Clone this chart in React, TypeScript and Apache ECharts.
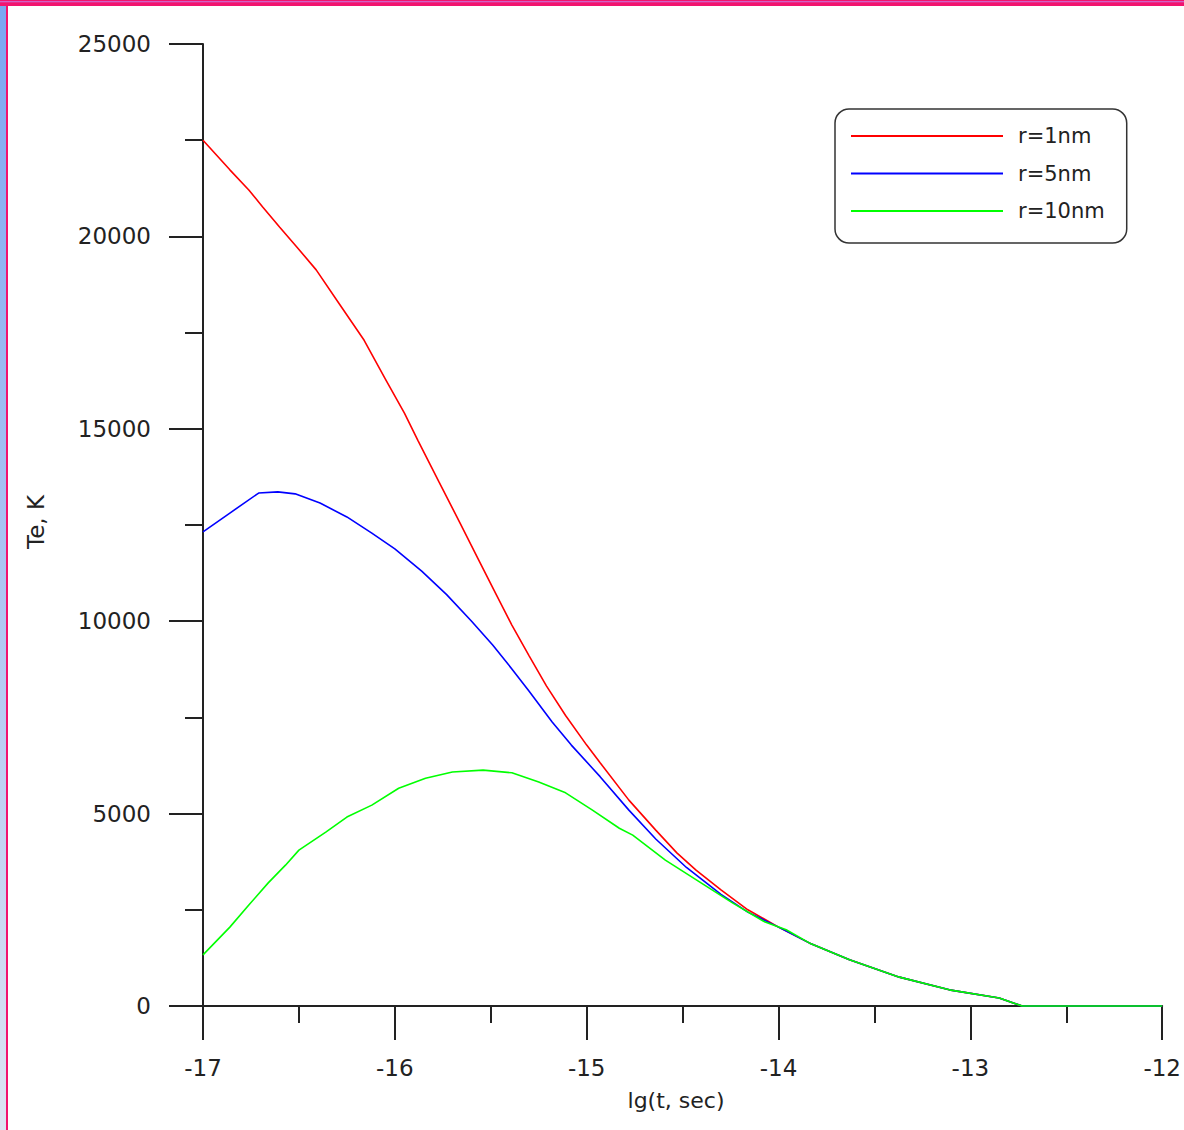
import React, { useEffect, useRef } from "react";
import * as echarts from "echarts";

// Electron temperature Te (K) against lg(t, sec) for three radii
const tRed = [-17, -16.86, -16.76, -16.69, -16.6, -16.51, -16.41, -16.29, -16.16, -16.05, -15.95, -15.88, -15.77, -15.66, -15.57, -15.47, -15.39, -15.3, -15.21, -15.11, -15.0, -14.93, -14.78, -14.64, -14.53, -14.43, -14.3, -14.16, -14.0, -13.84, -13.63, -13.37, -13.11, -12.85, -12.73, -12];
const teRed = [22500, 21730, 21200, 20770, 20240, 19720, 19130, 18250, 17300, 16300, 15410, 14700, 13620, 12550, 11660, 10680, 9900, 9100, 8320, 7550, 6780, 6320, 5350, 4570, 3980, 3530, 3020, 2500, 2050, 1640, 1200, 750, 420, 210, 0, 0];

const tBlue = [-17, -16.86, -16.71, -16.61, -16.52, -16.39, -16.25, -16.12, -16.0, -15.86, -15.73, -15.6, -15.49, -15.39, -15.3, -15.18, -15.08, -14.97, -14.93, -14.78, -14.64, -14.48, -14.3, -14.16, -14.0, -13.84, -13.63, -13.37, -13.11, -12.85, -12.73, -12];
const teBlue = [12320, 12810, 13330, 13360, 13310, 13070, 12710, 12290, 11880, 11300, 10690, 10000, 9380, 8760, 8180, 7380, 6780, 6180, 5960, 5090, 4340, 3600, 2900, 2440, 2050, 1640, 1200, 750, 420, 210, 0, 0];

const tGreen = [-17, -16.86, -16.76, -16.66, -16.57, -16.5, -16.36, -16.25, -16.12, -15.98, -15.84, -15.7, -15.54, -15.39, -15.25, -15.11, -14.97, -14.83, -14.76, -14.59, -14.41, -14.24, -14.07, -13.96, -13.84, -13.63, -13.37, -13.11, -12.85, -12.73, -12];
const teGreen = [1330, 2050, 2630, 3200, 3660, 4050, 4520, 4910, 5220, 5660, 5920, 6080, 6130, 6060, 5820, 5540, 5090, 4620, 4440, 3790, 3220, 2680, 2180, 1980, 1640, 1200, 750, 420, 210, 0, 0];

const seriesNames = ["r=1nm", "r=5nm", "r=10nm"];
const seriesColors = ["#ff0000", "#0000ff", "#00ff00"];

const xName = "lg(t, sec)";
const yName = "Te, K";

const zip = (xs: number[], ys: number[]) => xs.map((x, i) => [x, ys[i]]);

const FONT = "DejaVu Sans";
const INK = "#222222";

export default function App() {
  const ref = useRef<HTMLDivElement>(null);

  useEffect(() => {
    if (!ref.current) return;
    const chart = echarts.init(ref.current, undefined, { renderer: "svg" });

    const datasets = [zip(tRed, teRed), zip(tBlue, teBlue), zip(tGreen, teGreen)];

    chart.setOption({
      animation: false,
      backgroundColor: "#ffffff",
      grid: { left: 203, right: 20, top: 44, bottom: 124, containLabel: false },
      xAxis: {
        type: "value",
        min: -17,
        max: -12,
        interval: 1,
        axisLine: { show: true, onZero: false, lineStyle: { color: INK, width: 2 } },
        axisTick: { show: true, inside: false, length: 34, lineStyle: { color: INK, width: 2 } },
        minorTick: { show: true, splitNumber: 2, length: 17, lineStyle: { color: INK, width: 2 } },
        splitLine: { show: false },
        minorSplitLine: { show: false },
        axisLabel: {
          margin: 50,
          fontFamily: FONT,
          fontSize: 23,
          color: INK,
          showMinLabel: true,
          showMaxLabel: true,
          formatter: (v: number) => String(v),
        },
      },
      yAxis: {
        type: "value",
        min: 0,
        max: 25000,
        interval: 5000,
        axisLine: { show: true, onZero: false, lineStyle: { color: INK, width: 2 } },
        axisTick: { show: true, inside: false, length: 34, lineStyle: { color: INK, width: 2 } },
        minorTick: { show: true, splitNumber: 2, length: 18, lineStyle: { color: INK, width: 2 } },
        splitLine: { show: false },
        minorSplitLine: { show: false },
        axisLabel: {
          margin: 52,
          fontFamily: FONT,
          fontSize: 23,
          color: INK,
          formatter: (v: number) => String(v),
        },
      },
      legend: {
        orient: "vertical",
        left: 835,
        top: 109,
        padding: [16, 22, 21, 16],
        icon: "rect",
        itemWidth: 152,
        itemHeight: 2,
        itemGap: 15.5,
        borderColor: "#333333",
        borderWidth: 1.5,
        borderRadius: 14,
        backgroundColor: "#ffffff",
        textStyle: {
          fontFamily: FONT,
          fontSize: 21,
          color: INK,
          padding: [0, 0, 0, 10],
          lineHeight: 22,
        },
        data: seriesNames,
      },
      series: seriesNames.map((name, i) => ({
        name,
        type: "line",
        data: datasets[i],
        showSymbol: false,
        symbol: "none",
        smooth: false,
        clip: false,
        color: seriesColors[i],
        itemStyle: { color: seriesColors[i] },
        lineStyle: { color: seriesColors[i], width: 1.6 },
        z: 3 + i,
      })),
      graphic: [
        // window frame: light blue strip on the left, pink edges
        {
          type: "rect",
          shape: { x: 0, y: 0, width: 6, height: 1130 },
          style: {
            fill: new echarts.graphic.LinearGradient(0, 0, 0, 1, [
              { offset: 0, color: "#7aa6f2" },
              { offset: 1, color: "#dde4f3" },
            ]),
          },
          silent: true,
        },
        {
          type: "rect",
          shape: { x: 6, y: 0, width: 2, height: 1130 },
          style: { fill: "#f2136f" },
          silent: true,
        },
        {
          type: "rect",
          shape: { x: 0, y: 0, width: 1184, height: 6 },
          style: { fill: "#f2136f" },
          silent: true,
        },
        {
          type: "rect",
          shape: { x: 0, y: 1.3, width: 1184, height: 0.9 },
          style: { fill: "#c77ce0" },
          silent: true,
        },
        {
          type: "text",
          x: 676,
          y: 1100,
          style: {
            text: xName,
            fontFamily: FONT,
            fontSize: 22,
            fill: INK,
            textAlign: "center",
            textVerticalAlign: "middle",
          },
          silent: true,
        },
        {
          type: "text",
          x: 36,
          y: 522,
          rotation: Math.PI / 2,
          style: {
            text: yName,
            fontFamily: FONT,
            fontSize: 23,
            fill: INK,
            textAlign: "center",
            textVerticalAlign: "middle",
          },
          silent: true,
        },
      ],
    });

    return () => chart.dispose();
  }, []);

  return (
    <div
      ref={ref}
      style={{ position: "fixed", left: 0, top: 0, width: 1184, height: 1130, background: "#ffffff" }}
    />
  );
}
